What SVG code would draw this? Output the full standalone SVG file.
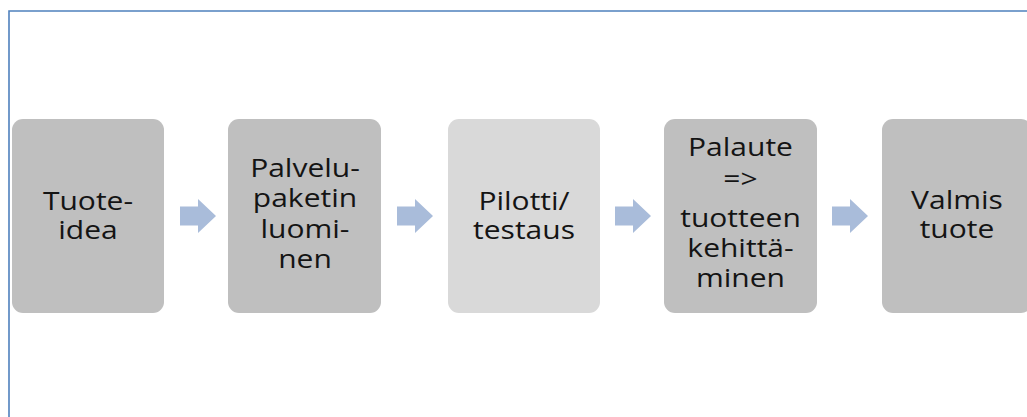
<svg xmlns="http://www.w3.org/2000/svg" width="1027" height="417" viewBox="0 0 1027 417">
  <style>
    .box { fill: #bfbfbf; }
    .box.light { fill: #d9d9d9; }
    .label { font-family: "Open Sans", "Noto Sans", sans-serif; font-size: 25px; fill: #141414; text-anchor: middle; }
    .arrow { fill: #a9bcda; }
    .frame { stroke: #4f81bd; stroke-width: 1.6; fill: none; }
  </style>
  <defs>
    <path id="arrowShape" d="M0,-9.5 H18 V-17 L36,0 L18,17 V9.5 H0 Z"/>
  </defs>

  <rect width="1027" height="417" fill="#ffffff"/>
  <!-- outer frame: top and left edges -->
  <path class="frame" d="M9,417 V11 H1027"/>

  <g id="node-tuoteidea">
    <rect class="box" x="12" y="119" width="152" height="194" rx="11"/>
    <g transform="translate(88,0) scale(1.2,1)">
      <text class="label" x="0" y="210">Tuote-</text>
      <text class="label" x="0" y="239">idea</text>
    </g>
  </g>

  <g id="node-palvelupaketti">
    <rect class="box" x="228" y="119" width="153" height="194" rx="11"/>
    <g transform="translate(305,0) scale(1.2,1)">
      <text class="label" x="0" y="177">Palvelu-</text>
      <text class="label" x="0" y="207">paketin</text>
      <text class="label" x="0" y="238">luomi-</text>
      <text class="label" x="0" y="268">nen</text>
    </g>
  </g>

  <g id="node-pilotti">
    <rect class="box light" x="448" y="119" width="152" height="194" rx="11"/>
    <g transform="translate(524,0) scale(1.2,1)">
      <text class="label" x="0" y="210">Pilotti/</text>
      <text class="label" x="0" y="239">testaus</text>
    </g>
  </g>

  <g id="node-palaute">
    <rect class="box" x="664" y="119" width="153" height="194" rx="11"/>
    <g transform="translate(740.5,0) scale(1.2,1)">
      <text class="label" x="0" y="156">Palaute</text>
      <text class="label" x="0" y="188">=&gt;</text>
      <text class="label" x="0" y="227">tuotteen</text>
      <text class="label" x="0" y="257">kehittä-</text>
      <text class="label" x="0" y="287">minen</text>
    </g>
  </g>

  <g id="node-valmis">
    <rect class="box" x="882" y="119" width="150" height="194" rx="11"/>
    <g transform="translate(957,0) scale(1.2,1)">
      <text class="label" x="0" y="209">Valmis</text>
      <text class="label" x="0" y="238">tuote</text>
    </g>
  </g>

  <g id="connectors">
    <use class="arrow" href="#arrowShape" transform="translate(180,216)"/>
    <use class="arrow" href="#arrowShape" transform="translate(397,216)"/>
    <use class="arrow" href="#arrowShape" transform="translate(615,216)"/>
    <use class="arrow" href="#arrowShape" transform="translate(832,216)"/>
  </g>
</svg>
